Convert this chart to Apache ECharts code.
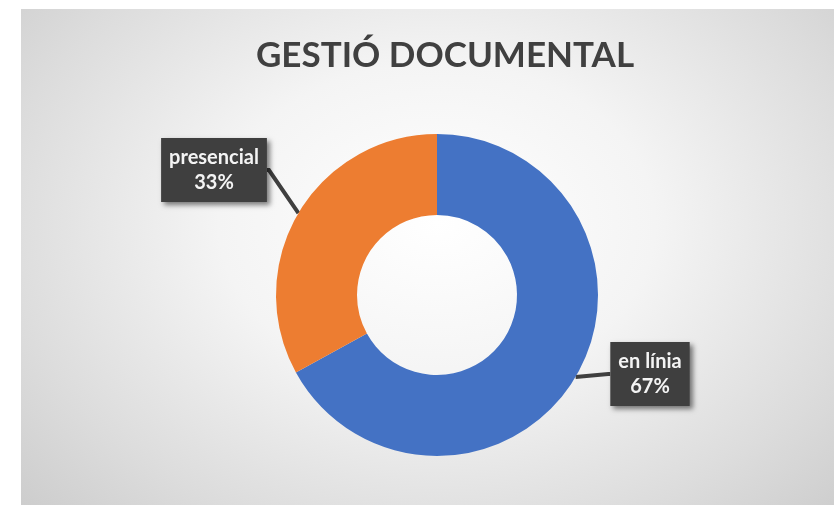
<!DOCTYPE html>
<html>
<head>
<meta charset="utf-8">
<script src="https://cdn.jsdelivr.net/npm/echarts@6/dist/echarts.min.js"></script>
<style>
  html, body { margin: 0; padding: 0; background: #ffffff; width: 834px; height: 505px; overflow: hidden; }
  #bg { position: absolute; left: 21px; top: 9px; width: 832px; height: 510px;
        background: radial-gradient(ellipse 75% 90% at 50% 42%, #ffffff 0%, #f4f4f4 35%, #dcdcdc 70%, #c6c6c6 100%); }
  #chart { position: absolute; left: 0; top: 0; width: 834px; height: 505px; }
</style>
</head>
<body>
<div id="bg"></div>
<div id="chart"></div>
<script>
const titleText = 'GESTIÓ DOCUMENTAL';
const categories = ['en línia', 'presencial'];
const values = [67, 33];
const colors = ['#4472C4', '#ED7D31'];

const chart = echarts.init(document.getElementById('chart'), null, { renderer: 'canvas' });
const labelPos = {
  'en línia': [650, 374],
  'presencial': [214, 170]
};
chart.setOption({
  backgroundColor: 'transparent',
  title: {
    text: titleText,
    left: 440,
    textAlign: 'center',
    top: 33,
    textStyle: { fontFamily: 'Lato', fontWeight: 'bold', fontSize: 35, color: '#404040' }
  },
  series: [{
    type: 'pie',
    center: [437, 295],
    radius: [80, 161],
    startAngle: 90,
    clockwise: true,
    silent: true,
    data: categories.map((c, i) => ({ name: c, value: values[i], itemStyle: { color: colors[i] } })),
    label: {
      show: true,
      position: 'outside',
      formatter: p => p.name + '\n' + Math.round(p.percent) + '%',
      fontFamily: 'Lato',
      fontWeight: 'bold',
      fontSize: 20,
      lineHeight: 25,
      color: '#f4f4f4',
      align: 'center',
      backgroundColor: '#3f3f3f',
      padding: [7, 8],
      shadowColor: 'rgba(0,0,0,0.5)',
      shadowBlur: 5,
      shadowOffsetX: 3,
      shadowOffsetY: 3
    },
    labelLine: {
      show: true,
      length: 2,
      length2: 2,
      smooth: false,
      lineStyle: { color: '#3f3f3f', width: 4 }
    },
    labelLayout: function (params) {
      const name = categories[params.dataIndex];
      const p = labelPos[name];
      return { x: p[0], y: p[1], align: 'center', verticalAlign: 'middle' };
    }
  }]
});
</script>
</body>
</html>
